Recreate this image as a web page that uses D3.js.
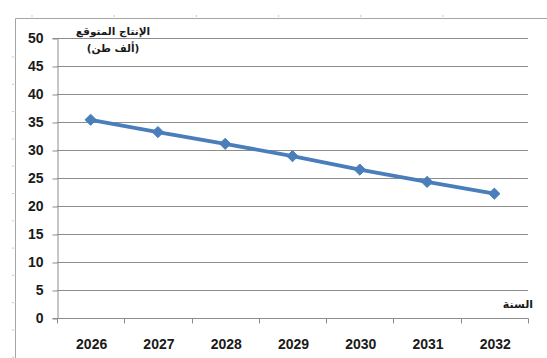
<!DOCTYPE html>
<html>
<head>
<meta charset="utf-8">
<script src="https://cdn.jsdelivr.net/npm/d3@7"></script>
<style>
  html, body { margin: 0; padding: 0; background: #fff; }
  svg { display: block; }
</style>
</head>
<body>
<svg id="chart" width="547" height="358"></svg>
<script>
// Expected production (thousand tonnes) by year
const years = ["2026", "2027", "2028", "2029", "2030", "2031", "2032"];
const production = [35.4, 33.2, 31.1, 28.9, 26.5, 24.3, 22.2];
const yTicks = [0, 5, 10, 15, 20, 25, 30, 35, 40, 45, 50];
const yTitle = ["الإنتاج المتوقع", "(ألف طن)"];
const xTitle = "السنة";

const svg = d3.select("#chart");
const W = 547, H = 358;
const plot = { left: 57, right: 528, top: 38, bottom: 318 };

const gray = "#8c8c8c";
const blue = "#4a7ebb";
const labelFont = "Liberation Sans, Arial, sans-serif";

// Page frame with ruler marks
const frame = svg.append("g");
frame.append("path")
  .attr("d", `M15.5,${H} V18.5 H${W}`)
  .attr("fill", "none").attr("stroke", "#a6a6a6").attr("stroke-width", 1);
frame.selectAll(".rt").data(d3.range(6)).join("line")
  .attr("x1", i => 32 + i * 82.2).attr("x2", i => 32 + i * 82.2)
  .attr("y1", 15).attr("y2", 17)
  .attr("stroke", "#c8c8c8");
frame.selectAll(".rl").data(d3.range(12)).join("line")
  .attr("y1", i => 57 + i * 27.3).attr("y2", i => 57 + i * 27.3)
  .attr("x1", 12).attr("x2", 14)
  .attr("stroke", "#c8c8c8");

const x = d3.scaleBand().domain(years).range([plot.left, plot.right]);
const y = d3.scaleLinear().domain([0, 50]).range([plot.bottom, plot.top]);

// Horizontal gridlines
svg.append("g").selectAll("line").data(yTicks.filter(d => d > 0)).join("line")
  .attr("x1", plot.left).attr("x2", plot.right)
  .attr("y1", d => Math.round(y(d)) + 0.5).attr("y2", d => Math.round(y(d)) + 0.5)
  .attr("stroke", gray).attr("stroke-width", 1);

// Y axis
const yAxis = svg.append("g")
  .attr("transform", `translate(${plot.left + 0.5},0)`)
  .call(d3.axisLeft(y).tickValues(yTicks).tickSize(5).tickPadding(9));
yAxis.select(".domain").attr("stroke", gray);
yAxis.selectAll(".tick line").attr("stroke", gray)
  .attr("transform", d => `translate(0,${Math.round(y(d)) + 0.5 - y(d)})`);
yAxis.selectAll(".tick text")
  .attr("font-family", labelFont)
  .attr("font-size", 14).attr("font-weight", "bold").attr("fill", "#1a1a1a");

// X axis (ticks on category boundaries)
const xAxisG = svg.append("g").attr("transform", `translate(0,${Math.round(plot.bottom) + 0.5})`);
xAxisG.append("line").attr("x1", plot.left).attr("x2", plot.right + 0.5)
  .attr("stroke", gray);
const bounds = years.map(d => x(d)).concat([plot.right]);
xAxisG.selectAll(".xt").data(bounds).join("line")
  .attr("x1", d => Math.round(d) + 0.5).attr("x2", d => Math.round(d) + 0.5)
  .attr("y1", 0).attr("y2", 5).attr("stroke", gray);
xAxisG.selectAll("text").data(years).join("text")
  .attr("x", d => x(d) + x.bandwidth() / 2 + 1)
  .attr("y", 30)
  .attr("text-anchor", "middle")
  .attr("font-family", labelFont)
  .attr("font-size", 14).attr("font-weight", "bold").attr("fill", "#1a1a1a")
  .text(d => d);

// Series line
const cx = d => x(d) + x.bandwidth() / 2;
svg.append("path")
  .datum(years.map((d, i) => [cx(d), y(production[i])]))
  .attr("d", d3.line())
  .attr("fill", "none").attr("stroke", blue)
  .attr("stroke-width", 3.8).attr("stroke-linejoin", "round");

// Diamond markers
svg.append("g").selectAll("path").data(years).join("path")
  .attr("transform", (d, i) => `translate(${cx(d)},${y(production[i])})`)
  .attr("d", d3.symbol(d3.symbolDiamond2, 80))
  .attr("fill", blue).attr("stroke", blue).attr("stroke-width", 1);

// Axis titles
const arabicFont = "DejaVu Sans, Noto Sans, sans-serif";
svg.append("g").selectAll("text").data(yTitle).join("text")
  .attr("x", 113).attr("y", (d, i) => 35 + i * 17)
  .attr("text-anchor", "middle").attr("direction", "rtl")
  .attr("font-family", arabicFont).attr("font-size", 10.5).attr("font-weight", "bold")
  .attr("fill", "#1a1a1a")
  .text(d => d);

svg.append("text")
  .attr("x", 518).attr("y", 308)
  .attr("text-anchor", "middle").attr("direction", "rtl")
  .attr("font-family", arabicFont).attr("font-size", 11).attr("font-weight", "bold")
  .attr("fill", "#1a1a1a")
  .text(xTitle);
</script>
</body>
</html>
